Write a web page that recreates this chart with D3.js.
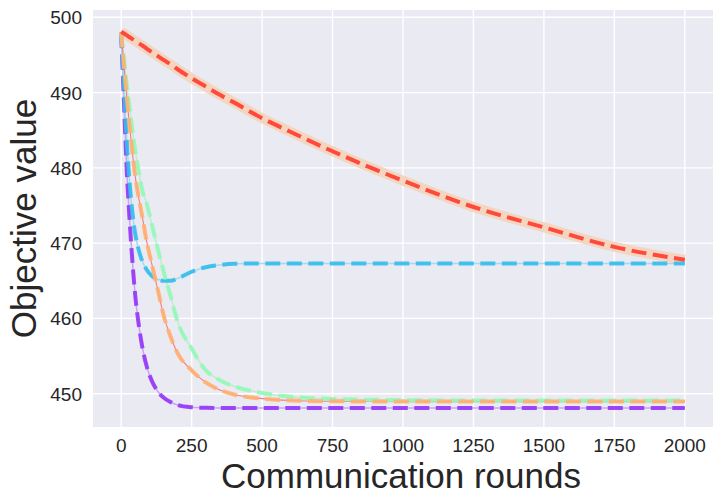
<!DOCTYPE html>
<html>
<head>
<meta charset="utf-8">
<style>
    body { margin: 0; background: #fff; }
    svg { display: block; font-family: "Liberation Sans", Arial, sans-serif; }
    .grid line { stroke: #fff; stroke-width: 1.4; }
    .tick-label { font-size: 19px; fill: #262626; }
    .axis-label { font-size: 35px; fill: #262626; }
</style>
</head>
<body>
<svg width="723" height="504"></svg>
<script src="https://d3js.org/d3.v7.min.js"></script>
<script>
// rounds shared by every curve
let rounds = [0, 10, 20, 30, 40, 50, 60, 75, 90, 110, 130, 150, 175, 200, 250, 300, 350, 400, 500, 600, 750, 1000, 1250, 1500, 1750, 2000]

let purpleValues = [497.9, 488.5, 479.5, 473, 467.5, 463, 459.8, 456.2, 453.7, 451.6, 450.3, 449.5, 448.9, 448.5, 448.2, 448.12, 448.1, 448.1, 448.1, 448.1, 448.1, 448.1, 448.1, 448.1, 448.1, 448.1]
let blueValues = [498, 490.5, 483.5, 478, 474, 471.2, 469.4, 467.6, 466.5, 465.6, 465.2, 465.0, 465.0, 465.3, 466.2, 466.8, 467.1, 467.25, 467.3, 467.3, 467.3, 467.3, 467.3, 467.3, 467.3, 467.3]
let greenValues = [498, 494.5, 491, 488, 485, 482.3, 480, 477, 475.3, 472.3, 469.2, 466.3, 463, 459.6, 456, 453.1, 451.8, 451.0, 450.1, 449.6, 449.3, 449.15, 449.1, 449.1, 449.1, 449.1]
let orangeValues = [498, 493.5, 489.3, 485.5, 482, 478.8, 476.5, 473.5, 470.3, 467, 463.8, 460.5, 457.6, 455.4, 453.1, 451.5, 450.5, 449.9, 449.35, 449.1, 449.0, 448.95, 448.95, 448.95, 448.95, 448.95]
let redValues = [498.1, 497.85, 497.6, 497.35, 497.1, 496.85, 496.6, 496.25, 495.85, 495.35, 494.85, 494.35, 493.75, 493.1, 491.9, 490.8, 489.7, 488.7, 486.6, 484.8, 482.2, 478.3, 474.8, 472.1, 469.5, 467.8]

let xTicks = [0, 250, 500, 750, 1000, 1250, 1500, 1750, 2000]
let yTicks = [450, 460, 470, 480, 490, 500]

let series = [
    { name: "purple", values: purpleValues, dash: "#9535f7", under: "#c4a6f2", underWidth: 1.5 },
    { name: "blue", values: blueValues, dash: "#33bdec", under: "#a6d9ee", underWidth: 1.5 },
    { name: "green", values: greenValues, dash: "#95f8b8", under: "#bdeccf", underWidth: 1.5 },
    { name: "orange", values: orangeValues, dash: "#ffb070", under: "#ef7f86", underWidth: 1.1 },
    { name: "red", values: redValues, dash: "#ff3a2e", under: "#f4d6c0", underWidth: 10 }
]

let svg = d3.select("svg")
let plot = { left: 93, right: 713, top: 10, bottom: 427 }

let x = d3.scaleLinear()
    .domain([-100, 2100])
    .range([plot.left, plot.right])

let y = d3.scaleLinear()
    .domain([450, 500])
    .range([393.7, 17.3])

svg.append("rect")
    .attr("x", plot.left)
    .attr("y", plot.top)
    .attr("width", plot.right - plot.left)
    .attr("height", plot.bottom - plot.top)
    .attr("fill", "#eaeaf2")

svg.append("clipPath")
    .attr("id", "clip")
    .append("rect")
    .attr("x", plot.left)
    .attr("y", plot.top)
    .attr("width", plot.right - plot.left)
    .attr("height", plot.bottom - plot.top)

let grid = svg.append("g").attr("class", "grid")
grid.selectAll(".gx")
    .data(xTicks)
    .join("line")
    .attr("x1", d => x(d)).attr("x2", d => x(d))
    .attr("y1", plot.top).attr("y2", plot.bottom)
grid.selectAll(".gy")
    .data(yTicks)
    .join("line")
    .attr("class", "gy")
    .attr("x1", plot.left).attr("x2", plot.right)
    .attr("y1", d => y(d)).attr("y2", d => y(d))

// tick labels
svg.selectAll(".xt")
    .data(xTicks)
    .join("text")
    .attr("class", "tick-label xt")
    .attr("x", d => x(d))
    .attr("y", 452)
    .attr("text-anchor", "middle")
    .text(d => d)

svg.selectAll(".yt")
    .data(yTicks)
    .join("text")
    .attr("class", "tick-label yt")
    .attr("x", 82)
    .attr("y", d => y(d) + 7)
    .attr("text-anchor", "end")
    .text(d => d)

svg.append("text")
    .attr("class", "axis-label")
    .attr("x", (plot.left + plot.right) / 2 - 2)
    .attr("y", 488)
    .attr("text-anchor", "middle")
    .text("Communication rounds")

svg.append("text")
    .attr("class", "axis-label")
    .attr("transform", `translate(36, ${(plot.top + plot.bottom) / 2}) rotate(-90)`)
    .attr("text-anchor", "middle")
    .text("Objective value")

let line = d3.line()
    .x((d, i) => x(rounds[i]))
    .y(d => y(d))
    .curve(d3.curveMonotoneX)

let lines = svg.append("g").attr("clip-path", "url(#clip)")

// solid under-lines first
lines.selectAll(".under")
    .data(series)
    .join("path")
    .attr("class", "under")
    .attr("fill", "none")
    .attr("stroke", d => d.under)
    .attr("stroke-width", d => d.underWidth)
    .attr("d", d => line(d.values))

// dashed lines on top
lines.selectAll(".dashed")
    .data(series)
    .join("path")
    .attr("class", "dashed")
    .attr("fill", "none")
    .attr("stroke", d => d.dash)
    .attr("stroke-opacity", 0.9)
    .attr("stroke-width", 4)
    .attr("stroke-dasharray", "15,6.5")
    .attr("d", d => line(d.values))
</script>
</body>
</html>
